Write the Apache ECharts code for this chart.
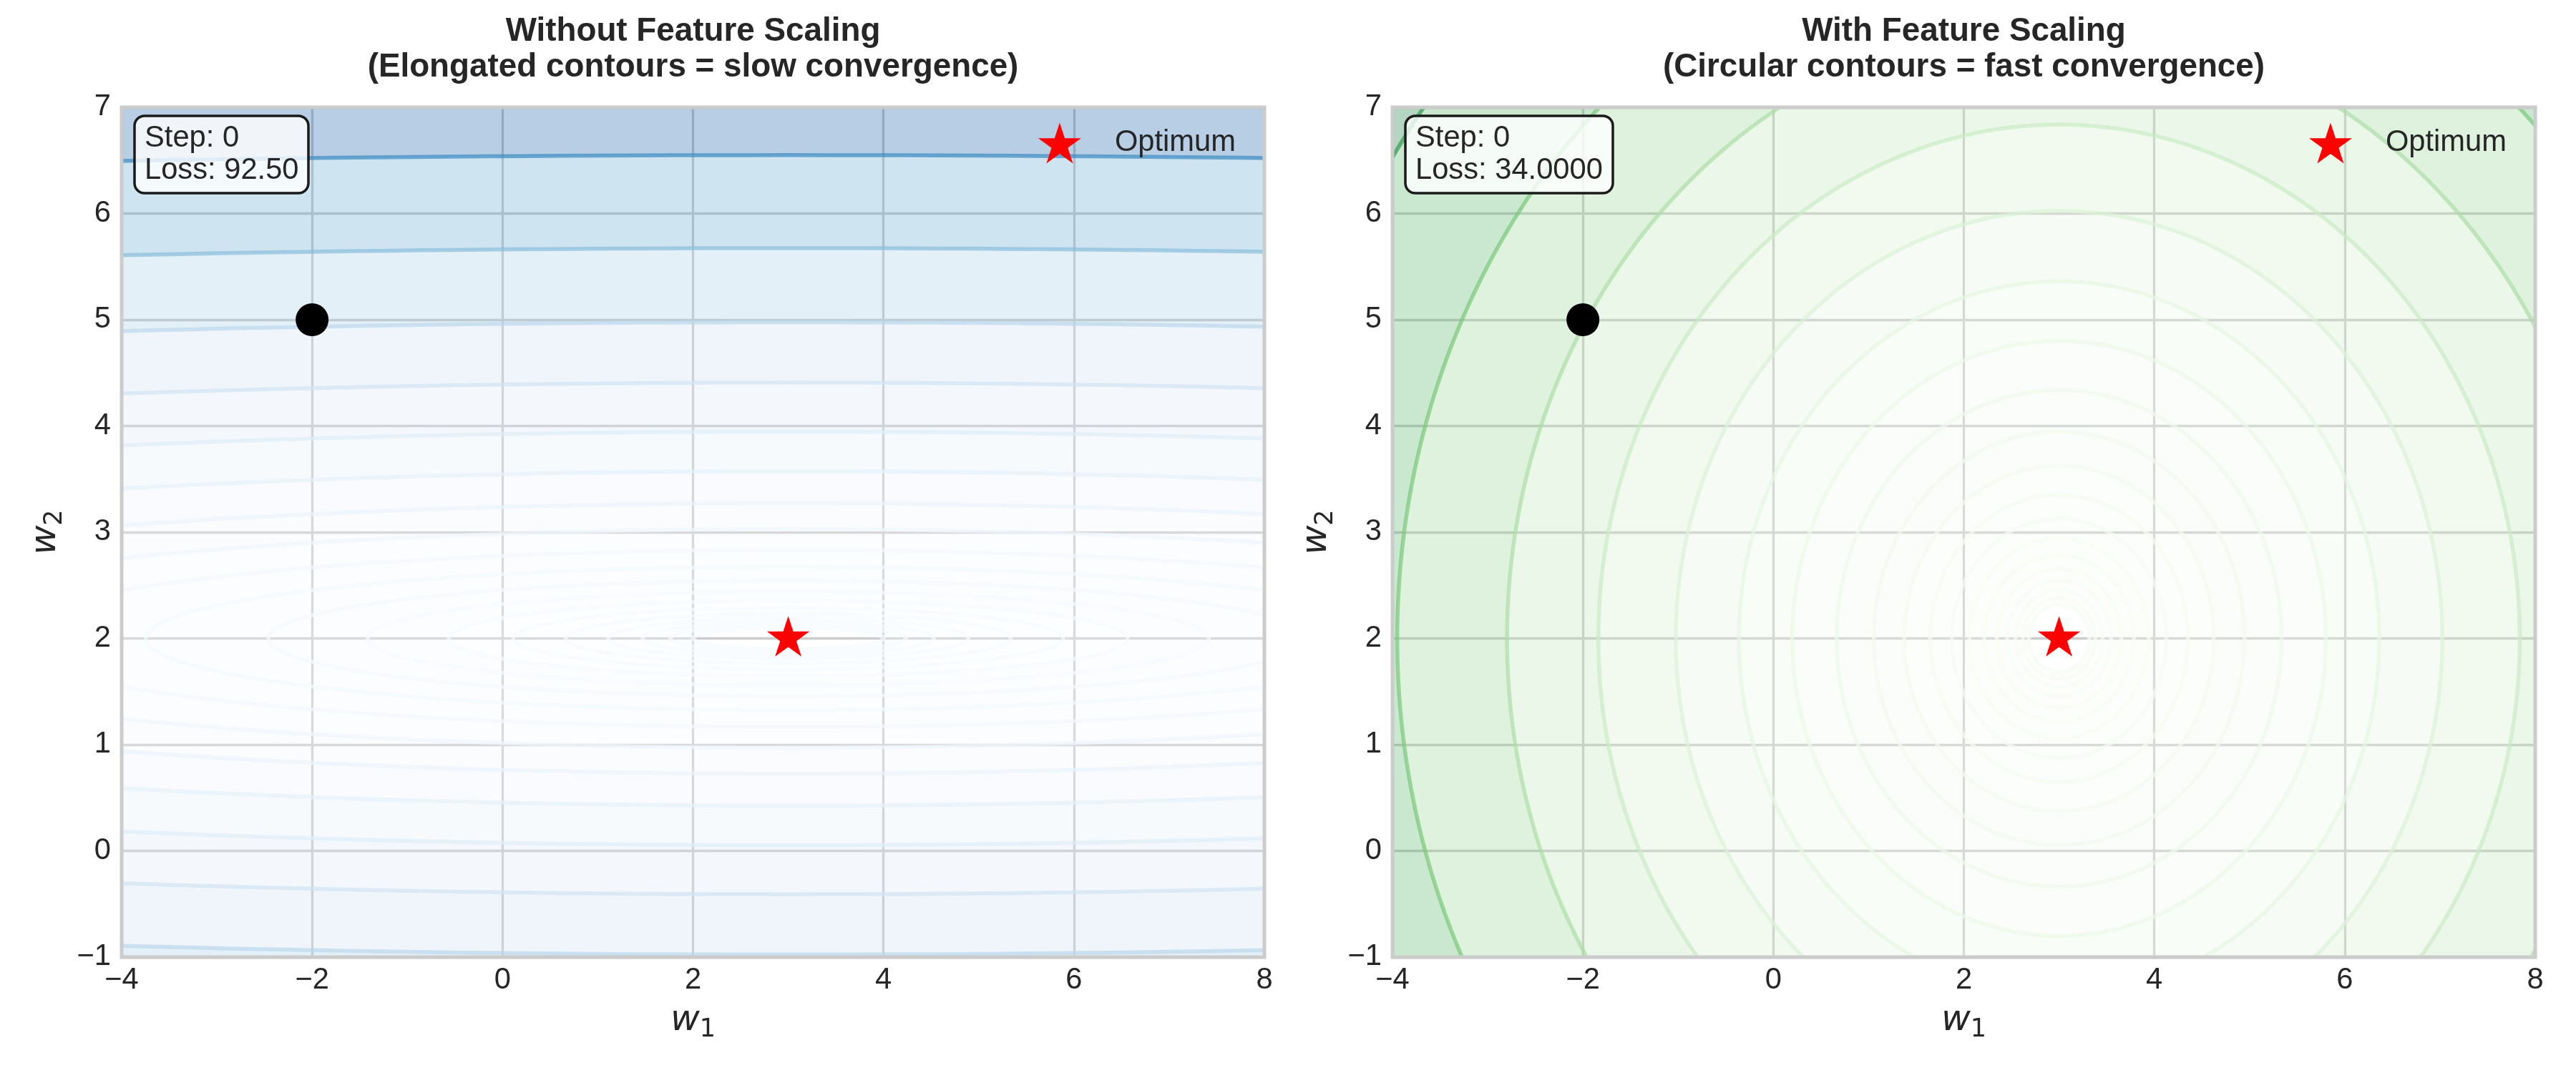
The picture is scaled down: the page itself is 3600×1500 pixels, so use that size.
<!DOCTYPE html>
<html>
<head>
<meta charset="utf-8">
<script src="https://cdn.jsdelivr.net/npm/echarts@6/dist/echarts.min.js"></script>
<style>
html, body { margin: 0; padding: 0; background: #fff; }
#chart { width: 3600px; height: 1500px; }
</style>
</head>
<body>
<div id="chart"></div>
<script>
// values
const optimum = [3, 2]
const startPoint = [-2, 5]
const stepText = 'Step: 0'
const lossUnscaled = '92.50'
const lossScaled = '34.0000'
// loss = a*(w1-3)^2 + b*(w2-2)^2  ->  [a, b]
const coefUnscaled = [0.1, 10]
const coefScaled = [1, 1]
// contour levels (log spaced in the original)
const levelsUnscaled = [0.1, 0.153, 0.234, 0.357, 0.546, 0.834, 1.27, 1.95, 2.98, 4.55,
  6.95, 10.6, 16.2, 24.8, 37.9, 58.0, 88.6, 135, 207, 316]
const levelsScaled = [0.1, 0.144, 0.207, 0.298, 0.428, 0.616, 0.886, 1.27, 1.83, 2.64,
  3.79, 5.46, 7.85, 11.3, 16.2, 23.4, 33.6, 48.3, 69.5, 100]
const titles = [
  'Without Feature Scaling\n(Elongated contours = slow convergence)',
  'With Feature Scaling\n(Circular contours = fast convergence)'
]

const BLUES = ['#f7fbff', '#deebf7', '#c6dbef', '#9ecae1', '#6baed6', '#4292c6', '#2171b5', '#08519c', '#08306b']
const GREENS = ['#f7fcf5', '#e5f5e0', '#c7e9c0', '#a1d99b', '#74c476', '#41ab5d', '#238b45', '#006d2c', '#00441b']

const FONT = 'Liberation Sans, Arial, sans-serif'
const TEXT = '#262626'
const STAR = 'path://M0,-100L22.45,-30.9L95.11,-30.9L36.33,11.8L58.78,80.9L0,38.2L-58.78,80.9L-36.33,11.8L-95.11,-30.9L-22.45,-30.9Z'

const grids = [
  { left: 170, top: 150, width: 1597, height: 1188 },
  { left: 1946, top: 150, width: 1597, height: 1188 }
]

function hexRgb(h) {
  return [parseInt(h.slice(1, 3), 16), parseInt(h.slice(3, 5), 16), parseInt(h.slice(5, 7), 16)]
}
function cmap(stops, t) {
  t = Math.max(0, Math.min(1, t))
  const p = t * (stops.length - 1)
  const i = Math.min(Math.floor(p), stops.length - 2)
  const f = p - i
  const a = hexRgb(stops[i]), b = hexRgb(stops[i + 1])
  return a.map((v, k) => Math.round(v + (b[k] - v) * f))
}
function rgba(c, a) {
  return 'rgba(' + c[0] + ',' + c[1] + ',' + c[2] + ',' + a + ')'
}

function ellipsePath(c, rx, ry, reverse) {
  const n = 720
  let d = ''
  for (let i = 0; i <= n; i++) {
    const t = (reverse ? -1 : 1) * 2 * Math.PI * i / n
    const x = c[0] + rx * Math.cos(t)
    const y = c[1] + ry * Math.sin(t)
    d += (i === 0 ? 'M' : 'L') + x.toFixed(2) + ' ' + y.toFixed(2)
  }
  return d + 'Z'
}

function clipOf(cs) {
  return { type: 'rect', shape: { x: cs.x, y: cs.y, width: cs.width, height: cs.height } }
}

function contourSeries(idx, levels, coef, stops) {
  const lo = levels[0], hi = levels[levels.length - 1]
  const bands = []
  const fillColors = []
  for (let k = 1; k < levels.length; k++) {
    bands.push([levels[k - 1], levels[k]])
    const mid = (levels[k - 1] + levels[k]) / 2
    fillColors.push(rgba(cmap(stops, (mid - lo) / (hi - lo)), 0.3))
  }
  const lineColors = levels.map(l => rgba(cmap(stops, (l - lo) / (hi - lo)), 0.7))
  const semi = (api, L) => api.size([2 * Math.sqrt(L / coef[0]), 2 * Math.sqrt(L / coef[1])])
  return [
    {
      type: 'custom',
      xAxisIndex: idx,
      yAxisIndex: idx,
      silent: true,
      clip: true,
      z: 1,
      data: bands,
      renderItem: function (params, api) {
        const c = api.coord(optimum)
        const o = semi(api, api.value(1))
        const i = semi(api, api.value(0))
        return {
          type: 'path',
          clipPath: clipOf(params.coordSys),
          shape: { pathData: ellipsePath(c, o[0] / 2, o[1] / 2, false) + ellipsePath(c, i[0] / 2, i[1] / 2, true) },
          style: { fill: fillColors[params.dataIndex], stroke: null }
        }
      }
    },
    {
      type: 'custom',
      xAxisIndex: idx,
      yAxisIndex: idx,
      silent: true,
      clip: true,
      z: 2,
      data: levels.map(l => [l]),
      renderItem: function (params, api) {
        const c = api.coord(optimum)
        const s = semi(api, api.value(0))
        return {
          type: 'path',
          clipPath: clipOf(params.coordSys),
          shape: { pathData: ellipsePath(c, s[0] / 2, s[1] / 2, false) },
          style: { fill: null, stroke: lineColors[params.dataIndex], lineWidth: 5.5 }
        }
      }
    }
  ]
}

const minusFmt = v => (v < 0 ? '\u2212' + Math.abs(v) : String(v))
const nameRich = {
  w: { fontFamily: 'DejaVu Sans', fontStyle: 'italic', fontSize: 50, lineHeight: 60, color: TEXT, verticalAlign: 'middle' },
  s: { fontFamily: 'DejaVu Sans', fontSize: 35, lineHeight: 30, color: TEXT, verticalAlign: 'bottom' }
}
const axisLabel = { fontFamily: FONT, fontSize: 41.7, color: TEXT }
const split = { show: true, lineStyle: { color: '#cccccc', width: 3.3 } }

const xAxes = [0, 1].map(i => ({
  gridIndex: i, type: 'value', min: -4, max: 8, interval: 2,
  axisLine: { show: false }, axisTick: { show: false }, splitLine: split,
  axisLabel: Object.assign({ margin: 12, formatter: minusFmt }, axisLabel),
  name: '{w|w}{s|1}', nameLocation: 'middle', nameGap: 59,
  nameTextStyle: { rich: nameRich }
}))
const yAxes = [0, 1].map(i => ({
  gridIndex: i, type: 'value', min: -1, max: 7, interval: 1,
  axisLine: { show: false }, axisTick: { show: false }, splitLine: split,
  axisLabel: Object.assign({ margin: 15, formatter: minusFmt }, axisLabel),
  name: '{w|w}{s|2}', nameLocation: 'middle', nameGap: 76,
  nameTextStyle: { rich: nameRich }
}))

const markers = []
;[0, 1].forEach(i => {
  markers.push({
    type: 'scatter', name: 'Start', xAxisIndex: i, yAxisIndex: i, z: 5,
    symbol: 'circle', symbolSize: 46, itemStyle: { color: '#000000', opacity: 1 },
    emphasis: { disabled: true },
    data: [startPoint]
  })
  markers.push({
    type: 'scatter', name: 'Optimum', xAxisIndex: i, yAxisIndex: i, z: 6,
    symbol: STAR, symbolSize: [59.4, 56.5], symbolOffset: [0, -3],
    itemStyle: { color: '#ff0000', opacity: 1 },
    emphasis: { disabled: true },
    data: [optimum]
  })
})

const titleOpts = titles.map((t, i) => ({
  text: t,
  left: grids[i].left + grids[i].width / 2,
  textAlign: 'center',
  top: 19,
  padding: 0,
  textStyle: { fontFamily: FONT, fontWeight: 'bold', fontSize: 45.8, lineHeight: 50, color: TEXT }
}))
const lossTexts = [lossUnscaled, lossScaled]
const boxOpts = [0, 1].map(i => ({
  text: stepText + '\nLoss: ' + lossTexts[i],
  left: grids[i].left + 18,
  top: 162,
  padding: [9, 14, 9, 14],
  backgroundColor: 'rgba(255,255,255,0.8)',
  borderColor: '#1a1a1a',
  borderWidth: 3.5,
  borderRadius: 14,
  textStyle: { fontFamily: FONT, fontWeight: 'normal', fontSize: 41.7, lineHeight: 45, color: TEXT }
}))

const legends = [0, 1].map(i => ({
  data: ['Optimum'],
  right: 3600 - (grids[i].left + grids[i].width - 40),
  top: 171.5,
  padding: 0,
  itemWidth: 144,
  itemHeight: 57,
  icon: STAR,
  itemStyle: { color: '#ff0000', opacity: 1 },
  textStyle: { fontFamily: FONT, fontSize: 41.7, color: TEXT }
}))

const option = {
  animation: false,
  backgroundColor: '#ffffff',
  title: titleOpts.concat(boxOpts),
  legend: legends,
  grid: grids,
  xAxis: xAxes,
  yAxis: yAxes,
  graphic: grids.map(g => ({
    type: 'rect', z: 100, silent: true,
    shape: { x: g.left, y: g.top, width: g.width, height: g.height },
    style: { fill: null, stroke: '#cccccc', lineWidth: 5 }
  })),
  series: contourSeries(0, levelsUnscaled, coefUnscaled, BLUES)
    .concat(contourSeries(1, levelsScaled, coefScaled, GREENS))
    .concat(markers)
}

const chart = echarts.init(document.getElementById('chart'))
chart.setOption(option)
</script>
</body>
</html>
